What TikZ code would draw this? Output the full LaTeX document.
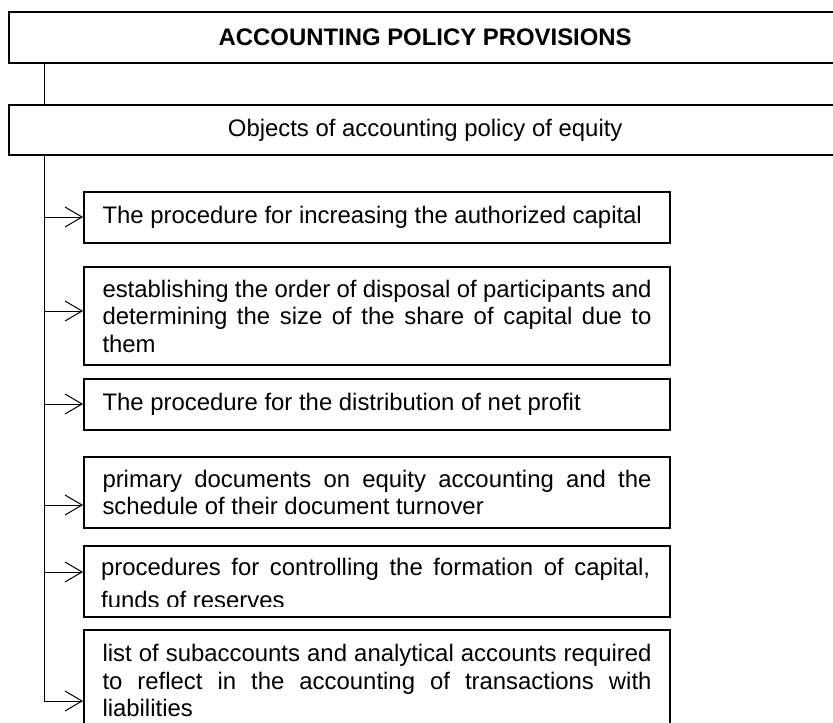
\documentclass[tikz,border=0pt]{standalone}
\usepackage{fontspec}
\setmainfont{Liberation Sans}
\usetikzlibrary{arrows.meta}
\tolerance=9999
\hyphenpenalty=10000
\emergencystretch=10pt
\begin{document}
\begin{tikzpicture}[x=1pt,y=-1pt,
  boxline/.style={draw=black, line width=2pt},
  bodyfont/.style={font=\fontsize{23.9}{27.5}\selectfont},
  head/.style={boxline, line width=2.4pt, rectangle, anchor=north west, minimum width=832pt, inner sep=0pt, align=center, bodyfont},
  item/.style={boxline, rectangle, anchor=north west, minimum width=586pt, text width=549pt, inner xsep=18.5pt, inner ysep=0pt, align=justify, bodyfont},
  plaintext/.style={rectangle, anchor=north west, text width=549pt, inner sep=0pt, align=justify},
  link/.style={draw=black, line width=1pt},
  arr/.style={link, -{Straight Barb[length=17pt,width=20pt]}}]
\useasboundingbox (0,0) rectangle (833,723);

% header boxes
\node[head, minimum height=51pt] (head) at (8,11) {\bfseries ACCOUNTING POLICY PROVISIONS};
\node[head, minimum height=50pt] (obj) at (8,104) {Objects of accounting policy of equity};

% item boxes
\node[item, minimum height=51pt] (b1) at (83,191) {The procedure for increasing the authorized capital};
\node[item, minimum height=98pt] (b2) at (83,266) {establishing the order of disposal of participants and\linebreak determining the size of the share of capital due to\linebreak them};
\node[item, minimum height=51pt] (b3) at (83,378) {The procedure for the distribution of net profit};
\node[item, minimum height=71pt] (b4) at (83,456) {primary documents on equity accounting and the\linebreak schedule of their document turnover};
\node[item, minimum height=71pt] (b5) at (83,545) {};
\begin{scope}
  \clip (84,546) rectangle (668,606.5);
  \node[plaintext, font=\fontsize{23.9}{32.5}\selectfont] (t5) at (101,558.3) {procedures for controlling the formation of capital,\linebreak funds of reserves};
\end{scope}
\node[item, minimum height=101pt] (b6) at (83,629) {list of subaccounts and analytical accounts required\linebreak to reflect in the accounting of transactions with\linebreak liabilities};

% trunk
\coordinate (tk) at (44,0);
\coordinate (a1) at (44,217);
\coordinate (a2) at (44,311);
\coordinate (a3) at (44,404);
\coordinate (a4) at (44,505);
\coordinate (a5) at (44,572);
\coordinate (a6) at (44,701);

\draw[link] (head.south -| tk) -- (obj.north -| tk);
\draw[link] (obj.south -| tk) -- (a6);

\draw[arr] (a1) -- (a1 -| b1.west);
\draw[arr] (a2) -- (a2 -| b2.west);
\draw[arr] (a3) -- (a3 -| b3.west);
\draw[arr] (a4) -- (a4 -| b4.west);
\draw[arr] (a5) -- (a5 -| b5.west);
\draw[arr] (a6) -- (a6 -| b6.west);
\end{tikzpicture}
\end{document}
